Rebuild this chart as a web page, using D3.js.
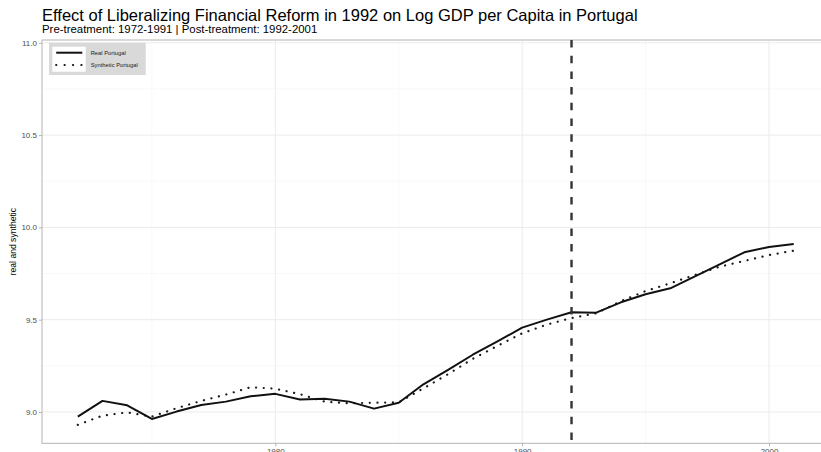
<!DOCTYPE html>
<html>
<head>
<meta charset="utf-8">
<script src="https://cdn.jsdelivr.net/npm/d3@7"></script>
<style>
  html, body { margin: 0; padding: 0; background: #fff; }
  svg { display: block; font-family: "Liberation Sans", Arial, sans-serif; }
</style>
</head>
<body>
<svg id="chart" width="821" height="452"></svg>
<script>
// Log GDP per capita, Portugal vs. its synthetic control, 1972-2001
const years = d3.range(1972, 2002);
const realPortugal = [
  8.975, 9.060, 9.036, 8.962, 9.002, 9.038, 9.056, 9.085, 9.098, 9.067,
  9.072, 9.056, 9.018, 9.050, 9.150, 9.228, 9.310, 9.382, 9.457, 9.500,
  9.540, 9.538, 9.594, 9.638, 9.670, 9.735, 9.800, 9.865, 9.894, 9.910
];
const syntheticPortugal = [
  8.930, 8.980, 8.998, 8.975, 9.020, 9.060, 9.094, 9.134, 9.126, 9.096,
  9.056, 9.047, 9.050, 9.052, 9.128, 9.205, 9.288, 9.358, 9.426, 9.473,
  9.509, 9.535, 9.600, 9.655, 9.697, 9.742, 9.787, 9.818, 9.850, 9.874
];
const yTicks = [9.0, 9.5, 10.0, 10.5, 11.0];
const xTicks = [1980, 1990, 2000];
const treatmentYear = 1992;
const seriesNames = ["Real Portugal", "Synthetic Portugal"];

const svg = d3.select("#chart");
const panel = { left: 42, right: 829.5, top: 40, bottom: 443.3 };

const x = d3.scaleLinear().domain([1970.55, 2002.45]).range([panel.left, panel.right]);
const y = d3.scaleLinear().domain([8.8302, 11.0152]).range([panel.bottom, panel.top]);

// gridlines
const g = svg.append("g");
const minorY = d3.range(8.75, 11.01, 0.25).filter(v => Math.abs(v * 2 - Math.round(v * 2)) > 0.01);
const minorX = [1975, 1985, 1995];
g.selectAll(".minor-y").data(minorY).enter().append("line")
  .attr("x1", panel.left).attr("x2", panel.right)
  .attr("y1", d => y(d)).attr("y2", d => y(d))
  .attr("stroke", "#f3f3f3").attr("stroke-width", 0.6);
g.selectAll(".minor-x").data(minorX).enter().append("line")
  .attr("y1", panel.top).attr("y2", panel.bottom)
  .attr("x1", d => x(d)).attr("x2", d => x(d))
  .attr("stroke", "#f3f3f3").attr("stroke-width", 0.6);
g.selectAll(".major-y").data(yTicks).enter().append("line")
  .attr("x1", panel.left).attr("x2", panel.right)
  .attr("y1", d => y(d)).attr("y2", d => y(d))
  .attr("stroke", "#ebebeb").attr("stroke-width", 1);
g.selectAll(".major-x").data(xTicks).enter().append("line")
  .attr("y1", panel.top).attr("y2", panel.bottom)
  .attr("x1", d => x(d)).attr("x2", d => x(d))
  .attr("stroke", "#ebebeb").attr("stroke-width", 1);

// panel border
svg.append("rect")
  .attr("x", panel.left).attr("y", panel.top)
  .attr("width", panel.right - panel.left).attr("height", panel.bottom - panel.top)
  .attr("fill", "none").attr("stroke", "#b3b3b3").attr("stroke-width", 1);

// axes
const yAxis = d3.axisLeft(y).tickValues(yTicks).tickFormat(d3.format(".1f")).tickSize(3).tickPadding(2);
const xAxis = d3.axisBottom(x).tickValues(xTicks).tickFormat(d3.format("d")).tickSize(3).tickPadding(2);
const ya = svg.append("g").attr("transform", `translate(${panel.left},0)`).call(yAxis);
const xa = svg.append("g").attr("transform", `translate(0,${panel.bottom})`).call(xAxis);
[ya, xa].forEach(a => {
  a.select(".domain").remove();
  a.selectAll(".tick line").attr("stroke", "#b3b3b3");
  a.selectAll(".tick text").attr("fill", "#4d4d4d").style("font-size", "8px")
    .style("font-family", "'Liberation Sans', Arial, sans-serif");
});

// series lines
const line = d3.line().x((d, i) => x(years[i])).y(d => y(d));
svg.append("path").datum(syntheticPortugal)
  .attr("d", line).attr("fill", "none").attr("stroke", "#1a1a1a")
  .attr("stroke-width", 2.2).attr("stroke-linecap", "round")
  .attr("stroke-dasharray", "0.1,7.6");
svg.append("path").datum(realPortugal)
  .attr("d", line).attr("fill", "none").attr("stroke", "#111")
  .attr("stroke-width", 2).attr("stroke-linejoin", "round");

// treatment year marker
svg.append("line")
  .attr("x1", x(treatmentYear)).attr("x2", x(treatmentYear))
  .attr("y1", panel.top).attr("y2", panel.bottom)
  .attr("stroke", "#333").attr("stroke-width", 2.4)
  .attr("stroke-dasharray", "7.5,8.2");

// legend
const legend = svg.append("g");
legend.append("rect").attr("x", 49).attr("y", 42.7).attr("width", 96.7).attr("height", 32.3)
  .attr("fill", "#d9d9d9");
legend.append("rect").attr("x", 52.3).attr("y", 46.7).attr("width", 33.4).attr("height", 25)
  .attr("fill", "#fff");
const legendRows = [
  { name: seriesNames[0], dash: null, w: 2 },
  { name: seriesNames[1], dash: "0.1,8.3", w: 2.2 }
];
legendRows.forEach((r, i) => {
  const ly = 52.7 + i * 12.3;
  legend.append("line").attr("x1", 56.2).attr("x2", 82.3).attr("y1", ly).attr("y2", ly)
    .attr("stroke", "#111").attr("stroke-width", r.w)
    .attr("stroke-linecap", r.dash ? "round" : "butt")
    .attr("stroke-dasharray", r.dash);
  legend.append("text").attr("x", 90.7).attr("y", ly + 2).text(r.name)
    .attr("fill", "#1a1a1a").style("font-size", "5.8px");
});

// titles
svg.append("text").attr("x", 42).attr("y", 20.7)
  .text("Effect of Liberalizing Financial Reform in 1992 on Log GDP per Capita in Portugal")
  .attr("fill", "#000").style("font-size", "16.5px");
svg.append("text").attr("x", 42).attr("y", 33.3)
  .text("Pre-treatment: 1972-1991 | Post-treatment: 1992-2001")
  .attr("fill", "#000").style("font-size", "11.4px");
svg.append("text")
  .attr("transform", `translate(16,${(panel.top + panel.bottom) / 2}) rotate(-90)`)
  .attr("text-anchor", "middle").text("real and synthetic")
  .attr("fill", "#000").style("font-size", "8.6px");
</script>
</body>
</html>
